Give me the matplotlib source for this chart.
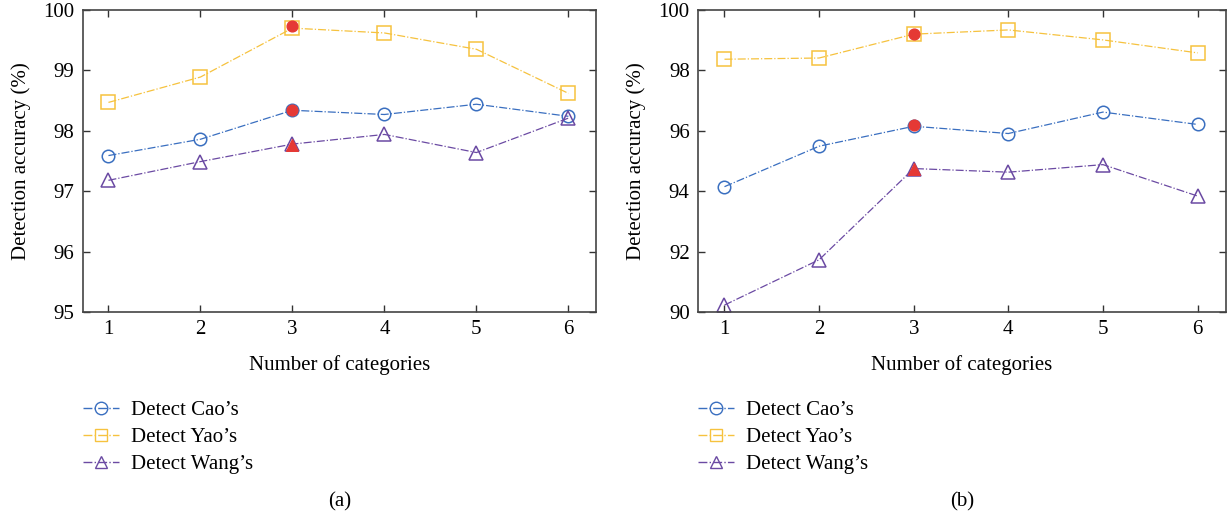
import numpy as np
import matplotlib.pyplot as plt
from matplotlib.lines import Line2D

plt.rcParams['font.family'] = ['Liberation Serif', 'DejaVu Serif']

categories = [1, 2, 3, 4, 5, 6]

# panel (a)
cao_a = [97.59, 97.86, 98.34, 98.27, 98.44, 98.24]
yao_a = [98.47, 98.89, 99.70, 99.62, 99.35, 98.62]
wang_a = [97.18, 97.49, 97.78, 97.94, 97.64, 98.21]
best_a = [99.73, 98.34, 97.77]

# panel (b)
cao_b = [94.15, 95.49, 96.15, 95.91, 96.62, 96.21]
yao_b = [98.37, 98.41, 99.20, 99.34, 99.01, 98.58]
wang_b = [90.23, 91.73, 94.75, 94.63, 94.88, 93.84]
best_b = [99.22, 96.20, 94.72]
best_x = 3

names = ["Detect Cao\u2019s", "Detect Yao\u2019s", "Detect Wang\u2019s"]
colors = ['#3a6fc0', '#f6c23e', '#6b4aa3']
markers = ['o', 's', '^']
red = '#e53935'

fig = plt.figure(figsize=(12.31, 5.16), dpi=100)
ax_a = fig.add_axes([82.7 / 1231, 1 - 312 / 516, (596 - 82.7) / 1231, 302 / 516])
ax_b = fig.add_axes([698 / 1231, 1 - 312 / 516, (1226 - 698) / 1231, 302 / 516])


def draw(ax, series, best, ylim, yticks, caption):
    for vals, c, m in zip(series, colors, markers):
        ax.plot(categories, vals, color=c, linestyle='-.', linewidth=0.9,
                marker=m, markersize=10 if m != 'o' else 9,
                markerfacecolor='none', markeredgecolor=c, markeredgewidth=1.1)
    ax.scatter([best_x] * 2, best[:2], s=60, color=red, zorder=5, marker='o')
    ax.scatter([best_x], best[2:], s=70, color=red, zorder=5, marker='^')
    ax.set_xlim(0.72, 6.3)
    ax.set_ylim(*ylim)
    ax.set_xticks(categories)
    ax.set_yticks(yticks)
    ax.tick_params(direction='in', top=True, right=True, length=5, width=1,
                   labelsize=15, pad=6, color='#333333')
    for s in ax.spines.values():
        s.set_linewidth(1.2)
        s.set_color('#444444')
    ax.set_xlabel('Number of categories', fontsize=15, labelpad=11)
    ax.set_ylabel('Detection accuracy (%)', fontsize=15, labelpad=9)
    handles = [Line2D([], [], color=c, linestyle='-.', marker=m, markersize=9,
                      markerfacecolor='none', markeredgecolor=c, linewidth=1.0)
               for c, m in zip(colors, markers)]
    ax.legend(handles, names, loc='upper left', bbox_to_anchor=(-0.035, -0.23),
              frameon=False, fontsize=15, handlelength=1.7, labelspacing=0.36,
              handletextpad=0.6)
    ax.text(0.5, -0.63, caption, transform=ax.transAxes, ha='center',
            va='center', fontsize=15)


draw(ax_a, [cao_a, yao_a, wang_a], best_a, (95, 100), [95, 96, 97, 98, 99, 100], '(a)')
draw(ax_b, [cao_b, yao_b, wang_b], best_b, (90, 100), [90, 92, 94, 96, 98, 100], '(b)')

fig.savefig('out.png', dpi=100)
